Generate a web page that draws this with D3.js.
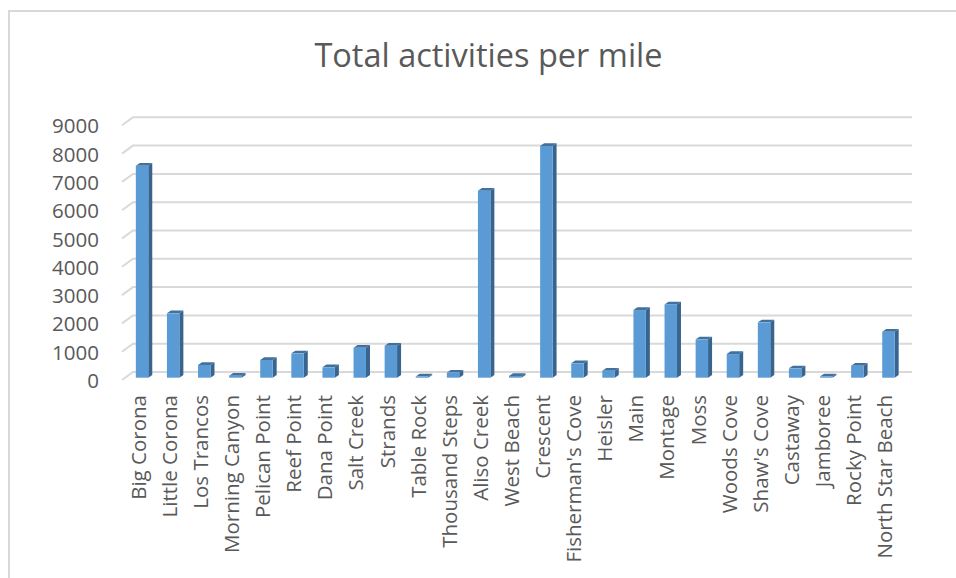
<!DOCTYPE html>
<html>
<head>
<meta charset="utf-8">
<script src="https://d3js.org/d3.v7.min.js"></script>
<style>
	html, body { margin: 0; padding: 0; background: #fff; overflow: hidden; }
	svg { display: block; }
	text { font-family: "Open Sans", sans-serif; fill: #595959; }
</style>
</head>
<body>
<svg id="chart"></svg>
<script>
const title = "Total activities per mile";

const beaches = ["Big Corona", "Little Corona", "Los Trancos", "Morning Canyon", "Pelican Point",
	"Reef Point", "Dana Point", "Salt Creek", "Strands", "Table Rock", "Thousand Steps", "Aliso Creek",
	"West Beach", "Crescent", "Fisherman's Cove", "Heisler", "Main", "Montage", "Moss", "Woods Cove",
	"Shaw's Cove", "Castaway", "Jamboree", "Rocky Point", "North Star Beach"];

const activities = [7490, 2275, 450, 70, 625,
	860, 367, 1060, 1130, 40, 180, 6607,
	60, 8187, 508, 247, 2390, 2590, 1355, 835,
	1955, 330, 40, 425, 1625];

const yTicks = [0, 1000, 2000, 3000, 4000, 5000, 6000, 7000, 8000, 9000];

function makeChart() {
	let w = 956;
	let h = 578;

	// back wall of the fake 3d plot
	let wallL = 133;
	let wallR = 912;
	let wallB = 372;
	let wallT = 117.3;

	// floor depth, left edge of gridlines drops down to the front
	let floorX = 11;
	let floorY = 8;

	// bar front sits in front of the wall, side face goes back up right
	let barDrop = 5.7;
	let sideX = 4;
	let sideY = 2.7;

	let xScale = d3.scaleBand()
		.domain(beaches)
		.range([126.5, 904])
		.paddingInner(0.6)
		.paddingOuter(0.3);

	let yScale = d3.scaleLinear()
		.domain([0, 9000])
		.range([wallB, wallT]);

	let chart = d3.select("#chart")
		.attr("width", w)
		.attr("height", h);

	// frame
	chart.append("path")
		.attr("d", `M9,${h}V11H${w}`)
		.attr("fill", "none")
		.attr("stroke", "#d9d9d9")
		.attr("stroke-width", 2);

	chart.append("text")
		.attr("x", 488.5)
		.attr("y", 67)
		.attr("text-anchor", "middle")
		.style("font-size", "32.5px")
		.text(title);

	// gridlines
	chart.append("g")
		.selectAll("path")
		.data(yTicks)
		.enter()
		.append("path")
		.attr("d", d => `M${wallL - floorX},${yScale(d) + floorY}L${wallL},${yScale(d)}H${wallR}`)
		.attr("fill", "none")
		.attr("stroke", "#d9d9d9")
		.attr("stroke-width", 2);

	// bars
	let bw = xScale.bandwidth();
	let bars = chart.append("g")
		.selectAll("g")
		.data(beaches)
		.enter()
		.append("g")
		.attr("transform", d => `translate(${xScale(d)},0)`);

	let top = (d, i) => yScale(activities[i]) + barDrop;
	let base = yScale(0) + barDrop;

	bars.append("path")
		.attr("fill", "#41719c")
		.attr("d", (d, i) => `M0,${top(d, i)}L${sideX},${top(d, i) - sideY}H${bw + sideX}L${bw},${top(d, i)}Z`);

	bars.append("path")
		.attr("fill", "#386490")
		.attr("d", (d, i) => `M${bw},${top(d, i)}L${bw + sideX},${top(d, i) - sideY}V${base - sideY}L${bw},${base}Z`);

	bars.append("rect")
		.attr("fill", "#5b9bd5")
		.attr("width", bw)
		.attr("y", (d, i) => top(d, i))
		.attr("height", (d, i) => base - top(d, i));

	// AXES
	let yAxis = d3.axisLeft(yScale)
		.tickValues(yTicks)
		.tickSize(0)
		.tickPadding(0)
		.tickFormat(d => String(d));

	let yg = chart.append("g")
		.attr("transform", `translate(99,${floorY + 1})`)
		.call(yAxis);
	yg.select(".domain").remove();
	yg.selectAll("text")
		.style("font-size", "20.5px")
		.style("fill", "#595959")
		.style("font-family", '"Open Sans", sans-serif');

	let xAxis = d3.axisBottom(xScale)
		.tickSize(0)
		.tickPadding(0);

	let xg = chart.append("g")
		.attr("transform", `translate(-3.5,395)`)
		.call(xAxis);
	xg.select(".domain").remove();
	xg.selectAll("text")
		.attr("transform", "rotate(-90)")
		.attr("x", 0)
		.attr("y", 0)
		.attr("dy", "0.35em")
		.attr("text-anchor", "end")
		.style("font-size", "20.5px")
		.style("fill", "#595959")
		.style("font-family", '"Open Sans", sans-serif');
}

window.onload = function () {
	makeChart();
}
</script>
</body>
</html>
